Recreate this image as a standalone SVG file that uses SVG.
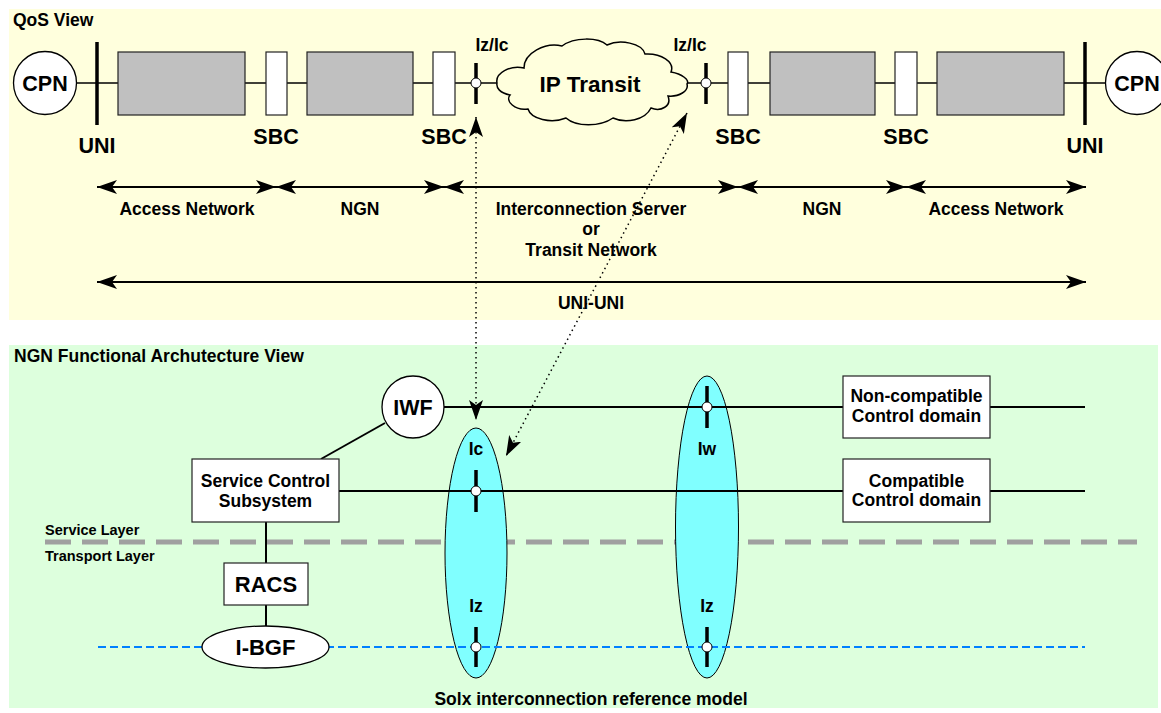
<svg xmlns="http://www.w3.org/2000/svg" width="1161" height="713" viewBox="0 0 1161 713">
<defs>
<style>
.t{font-family:"Liberation Sans",Arial,sans-serif;font-weight:bold;fill:#000}
.s{font-size:17.5px}
.b{font-size:21.5px}
.l{font-size:14.5px}
.m{text-anchor:middle}
.thin{stroke:#000;stroke-width:1.3;fill:none}
.ln{stroke:#000;stroke-width:2;fill:none}
.bar{stroke:#000;stroke-width:3.5}
.gray{fill:#c0c0c0;stroke:#222;stroke-width:1.2}
.wbox{fill:#fff;stroke:#222;stroke-width:1.2}
.dot{fill:#fff;stroke:#000;stroke-width:1}
.oval{fill:#80ffff;stroke:#000;stroke-width:1}
.dotted{stroke:#000;stroke-width:1.5;stroke-dasharray:1.5 3.5;fill:none}
</style>
<marker id="ah" viewBox="0 0 20 14" refX="20" refY="7" markerWidth="20" markerHeight="14" markerUnits="userSpaceOnUse" orient="auto-start-reverse">
<path d="M0,0 L20,7 L0,14 L5,7 Z" fill="#000"/>
</marker>
</defs>

<g id="qos-panel">
<rect x="9" y="9" width="1152" height="311" fill="#ffffdd"/>
<text class="t s" x="13" y="26">QoS View</text>
</g>
<g id="ngn-panel">
<rect x="9" y="345" width="1149" height="363" fill="#ddffdd"/>
<text class="t s" x="14" y="362">NGN Functional Archutecture View</text>
</g>

<g id="connectors">
<line class="thin" x1="77" y1="83" x2="497" y2="83"/>
<line class="thin" x1="687" y1="83" x2="1105" y2="83"/>
<line class="ln" x1="97" y1="187" x2="276" y2="187" marker-start="url(#ah)" marker-end="url(#ah)"/>
<line class="ln" x1="276" y1="187" x2="444" y2="187" marker-start="url(#ah)" marker-end="url(#ah)"/>
<line class="ln" x1="444" y1="187" x2="738" y2="187" marker-start="url(#ah)" marker-end="url(#ah)"/>
<line class="ln" x1="738" y1="187" x2="906" y2="187" marker-start="url(#ah)" marker-end="url(#ah)"/>
<line class="ln" x1="906" y1="187" x2="1086" y2="187" marker-start="url(#ah)" marker-end="url(#ah)"/>
<line class="ln" x1="97" y1="282" x2="1086" y2="282" marker-start="url(#ah)" marker-end="url(#ah)"/>
<line stroke="#a0a0a0" stroke-width="5" stroke-dasharray="26 11" x1="45" y1="542" x2="1137" y2="542"/>
<line class="ln" x1="385" y1="423" x2="321" y2="459"/>
<line class="ln" x1="266" y1="522" x2="266" y2="626"/>
</g>

<g id="cpn-left">
<circle cx="45" cy="83" r="31.5" fill="#fff" stroke="#000" stroke-width="1.3"/>
<text class="t b m" x="45" y="91">CPN</text>
</g>
<g id="cpn-right">
<circle cx="1137" cy="83" r="31.5" fill="#fff" stroke="#000" stroke-width="1.3"/>
<text class="t b m" x="1137" y="91">CPN</text>
</g>
<g id="uni-left">
<line class="bar" x1="97" y1="42" x2="97" y2="125"/>
<text class="t b m" x="97" y="153">UNI</text>
</g>
<g id="uni-right">
<line class="bar" x1="1085" y1="42" x2="1085" y2="125"/>
<text class="t b m" x="1085" y="153">UNI</text>
</g>
<g id="access-left"><rect class="gray" x="118" y="52" width="127" height="63"/></g>
<g id="sbc-1"><rect class="wbox" x="266" y="52" width="21" height="63"/><text class="t b m" x="276" y="144">SBC</text></g>
<g id="ngn-left"><rect class="gray" x="307" y="52" width="106" height="63"/></g>
<g id="sbc-2"><rect class="wbox" x="433" y="52" width="22" height="63"/><text class="t b m" x="444" y="144">SBC</text></g>
<g id="ip-transit">
<path d="M497,83 C495,73 510,65 524,68 C524,53 545,42 562,46 C574,37 598,37 607,45 C620,39 642,43 645,54 C661,53 675,62 671,72 C682,74 690,80 687,84 C689,91 679,97 668,96 C672,106 661,112 651,108 C645,120 626,124 613,118 C600,127 576,127 566,118 C551,124 531,119 528,109 C515,111 505,101 510,95 C500,93 496,88 497,83 Z" fill="#ffffdd" stroke="#000" stroke-width="1.5"/>
<text class="t m" style="font-size:22.5px" x="590" y="92">IP Transit</text>
</g>
<g id="izic-left">
<line class="bar" x1="476" y1="63" x2="476" y2="104"/>
<circle class="dot" cx="476" cy="83" r="5"/>
<text class="t s m" x="492" y="51">Iz/Ic</text>
</g>
<g id="izic-right">
<line class="bar" x1="706" y1="63" x2="706" y2="104"/>
<circle class="dot" cx="706" cy="83" r="5"/>
<text class="t s m" x="690" y="51">Iz/Ic</text>
</g>
<g id="sbc-3"><rect class="wbox" x="728" y="52" width="20" height="63"/><text class="t b m" x="738" y="144">SBC</text></g>
<g id="ngn-right"><rect class="gray" x="770" y="52" width="105" height="63"/></g>
<g id="sbc-4"><rect class="wbox" x="895" y="52" width="22" height="63"/><text class="t b m" x="906" y="144">SBC</text></g>
<g id="access-right"><rect class="gray" x="937" y="52" width="127" height="63"/></g>

<g id="segment-labels">
<text class="t s m" x="187" y="215">Access Network</text>
<text class="t s m" x="360" y="215">NGN</text>
<text class="t s m" x="591" y="215">Interconnection Server</text>
<text class="t s m" x="591" y="235">or</text>
<text class="t s m" x="591" y="256">Transit Network</text>
<text class="t s m" x="822" y="215">NGN</text>
<text class="t s m" x="996" y="215">Access Network</text>
<text class="t s m" x="591" y="309">UNI-UNI</text>
</g>

<g id="layer-labels">
<text class="t l" x="45" y="535">Service Layer</text>
<text class="t l" x="45" y="561">Transport Layer</text>
</g>

<g id="ic-iz-oval"><ellipse class="oval" cx="476" cy="553" rx="31" ry="125"/></g>
<g id="iw-iz-oval"><ellipse class="oval" cx="707" cy="527" rx="31.5" ry="151"/></g>

<g id="connectors-lower">
<line class="ln" x1="444" y1="407" x2="843" y2="407"/>
<line class="ln" x1="990" y1="407" x2="1085" y2="407"/>
<line class="ln" x1="339" y1="491" x2="843" y2="491"/>
<line class="ln" x1="990" y1="491" x2="1085" y2="491"/>
<line stroke="#0080ff" stroke-width="2" stroke-dasharray="8 4" x1="98" y1="647" x2="1085" y2="647"/>
<line class="dotted" x1="476" y1="117" x2="476" y2="420" marker-start="url(#ah)" marker-end="url(#ah)"/>
<line class="dotted" x1="687" y1="113" x2="506" y2="456" marker-start="url(#ah)" marker-end="url(#ah)"/>
</g>

<g id="ic-point">
<line class="bar" x1="476" y1="470" x2="476" y2="512"/>
<circle class="dot" cx="476" cy="491" r="5"/>
<text class="t s m" x="476" y="455">Ic</text>
</g>
<g id="iw-point">
<line class="bar" x1="707" y1="386" x2="707" y2="428"/>
<circle class="dot" cx="707" cy="407" r="5"/>
<text class="t s m" x="707" y="455">Iw</text>
</g>
<g id="iz-point-1">
<line class="bar" x1="476" y1="627" x2="476" y2="667"/>
<circle class="dot" cx="476" cy="647" r="5"/>
<text class="t s m" x="476" y="612">Iz</text>
</g>
<g id="iz-point-2">
<line class="bar" x1="707" y1="627" x2="707" y2="667"/>
<circle class="dot" cx="707" cy="647" r="5"/>
<text class="t s m" x="707" y="612">Iz</text>
</g>

<g id="iwf">
<circle cx="413" cy="407" r="31" fill="#fff" stroke="#000" stroke-width="1.3"/>
<text class="t b m" x="413" y="415">IWF</text>
</g>
<g id="service-control">
<rect class="wbox" x="192" y="459" width="147" height="63"/>
<text class="t s m" x="265.5" y="487">Service Control</text>
<text class="t s m" x="265.5" y="507">Subsystem</text>
</g>
<g id="non-compatible">
<rect class="wbox" x="843" y="376" width="147" height="62"/>
<text class="t s m" x="916.5" y="402">Non-compatible</text>
<text class="t s m" x="916.5" y="422">Control domain</text>
</g>
<g id="compatible">
<rect class="wbox" x="843" y="459" width="147" height="63"/>
<text class="t s m" x="916.5" y="487">Compatible</text>
<text class="t s m" x="916.5" y="506">Control domain</text>
</g>
<g id="racs">
<rect class="wbox" x="224" y="563" width="84" height="42"/>
<text class="t m" style="font-size:22px" x="266" y="592">RACS</text>
</g>
<g id="i-bgf">
<ellipse cx="265.5" cy="647" rx="63.5" ry="21" fill="#fff" stroke="#000" stroke-width="1.3"/>
<text class="t m" style="font-size:22px" x="265.5" y="655">I-BGF</text>
</g>
<g id="model-caption">
<text class="t s m" x="591" y="705">Solx interconnection reference model</text>
</g>
</svg>
